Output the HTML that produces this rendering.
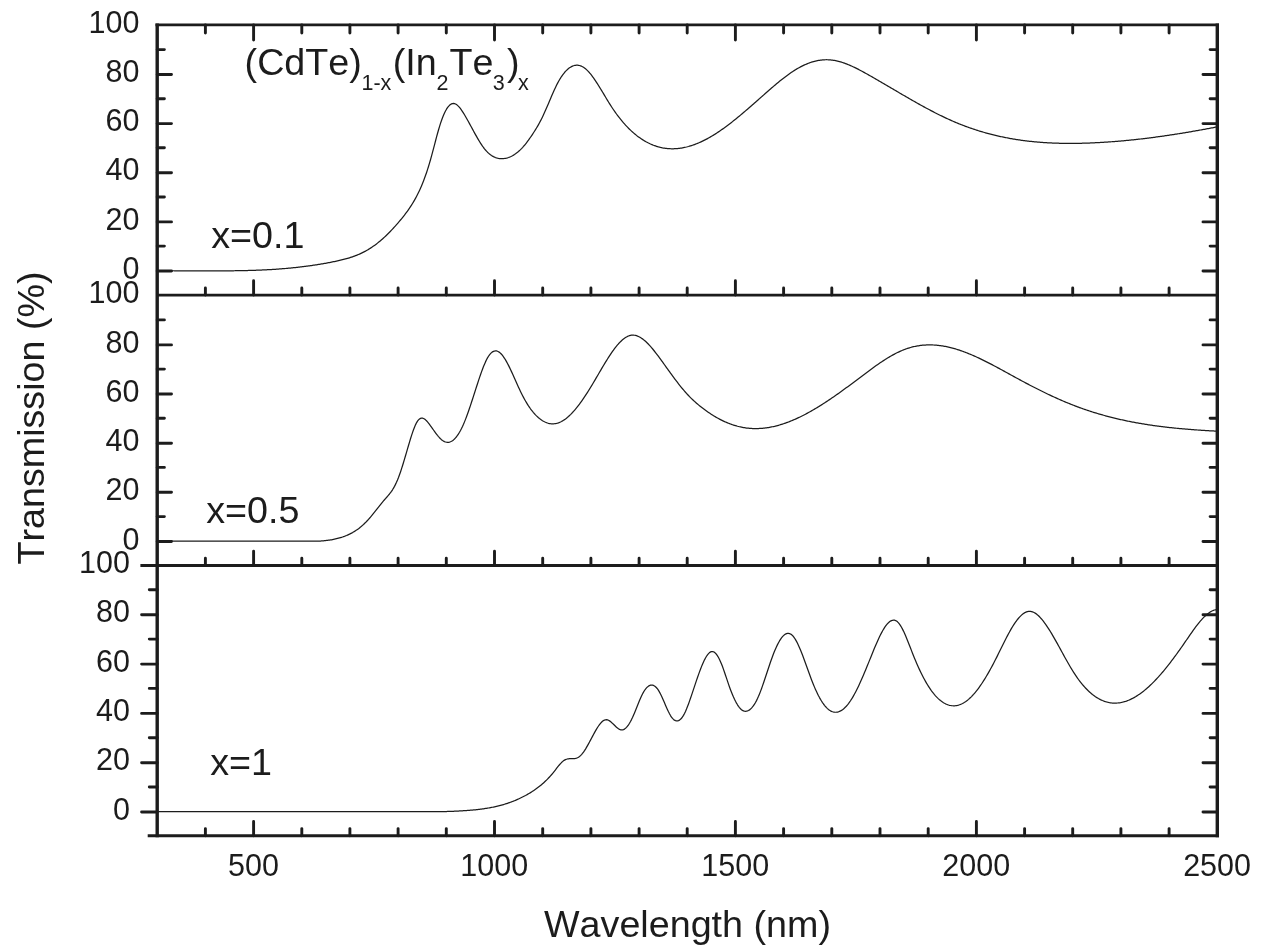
<!DOCTYPE html>
<html><head><meta charset="utf-8"><title>Transmission spectra</title>
<style>
html,body{margin:0;padding:0;background:#fff;}
body{width:1268px;height:945px;overflow:hidden;}
svg{display:block;}
text{font-family:"Liberation Sans",Arial,Helvetica,sans-serif;fill:#1c1c1c;font-kerning:none;font-variant-ligatures:none;}
.tl{font-size:30.5px;}
.an{font-size:37.7px;}
.sb{font-size:21.5px;}
.ax{stroke:#1c1c1c;stroke-width:2.9;fill:none;stroke-linecap:butt;}
.tk{stroke:#1c1c1c;stroke-width:2.9;fill:none;stroke-linecap:round;}
.cv{stroke:#1c1c1c;stroke-width:1.25;fill:none;stroke-linejoin:round;}
</style></head><body>
<svg width="1268" height="945" viewBox="0 0 1268 945">
<rect width="1268" height="945" fill="#fff"/>

<path class="cv" d="M158.5,270.80 L159.5,270.80 L160.5,270.80 L161.5,270.80 L162.5,270.80 L163.5,270.80 L164.5,270.80 L165.5,270.79 L166.5,270.78 L167.5,270.78 L168.5,270.77 L169.5,270.77 L170.5,270.76 L171.5,270.76 L172.5,270.76 L173.5,270.75 L174.5,270.75 L175.5,270.75 L176.5,270.75 L177.5,270.75 L178.5,270.75 L179.5,270.75 L180.5,270.75 L181.5,270.75 L182.5,270.76 L183.5,270.76 L184.5,270.76 L185.5,270.76 L186.5,270.77 L187.5,270.77 L188.5,270.77 L189.5,270.78 L190.5,270.78 L191.5,270.78 L192.5,270.79 L193.5,270.79 L194.5,270.80 L195.5,270.80 L196.5,270.80 L197.5,270.80 L198.5,270.80 L199.5,270.80 L200.5,270.80 L201.5,270.80 L202.5,270.80 L203.5,270.80 L204.5,270.80 L205.5,270.80 L206.5,270.80 L207.5,270.80 L208.5,270.80 L209.5,270.80 L210.5,270.80 L211.5,270.80 L212.5,270.80 L213.5,270.80 L214.5,270.80 L215.5,270.80 L216.5,270.80 L217.5,270.80 L218.5,270.80 L219.5,270.80 L220.5,270.80 L221.5,270.80 L222.5,270.80 L223.5,270.80 L224.5,270.80 L225.5,270.80 L226.5,270.80 L227.5,270.80 L228.5,270.80 L229.5,270.80 L230.5,270.79 L231.5,270.78 L232.5,270.77 L233.5,270.76 L234.5,270.75 L235.5,270.74 L236.5,270.73 L237.5,270.71 L238.5,270.70 L239.5,270.68 L240.5,270.66 L241.5,270.64 L242.5,270.62 L243.5,270.60 L244.5,270.58 L245.5,270.56 L246.5,270.53 L247.5,270.51 L248.5,270.48 L249.5,270.46 L250.5,270.43 L251.5,270.40 L252.5,270.37 L253.5,270.34 L254.5,270.30 L255.5,270.27 L256.5,270.23 L257.5,270.19 L258.5,270.15 L259.5,270.11 L260.5,270.07 L261.5,270.03 L262.5,269.98 L263.5,269.94 L264.5,269.89 L265.5,269.84 L266.5,269.79 L267.5,269.74 L268.5,269.68 L269.5,269.63 L270.5,269.57 L271.5,269.51 L272.5,269.45 L273.5,269.39 L274.5,269.32 L275.5,269.26 L276.5,269.19 L277.5,269.12 L278.5,269.05 L279.5,268.98 L280.5,268.90 L281.5,268.82 L282.5,268.74 L283.5,268.66 L284.5,268.58 L285.5,268.50 L286.5,268.41 L287.5,268.32 L288.5,268.23 L289.5,268.14 L290.5,268.04 L291.5,267.94 L292.5,267.85 L293.5,267.74 L294.5,267.64 L295.5,267.53 L296.5,267.43 L297.5,267.32 L298.5,267.20 L299.5,267.09 L300.5,266.97 L301.5,266.85 L302.5,266.73 L303.5,266.61 L304.5,266.48 L305.5,266.36 L306.5,266.22 L307.5,266.09 L308.5,265.96 L309.5,265.82 L310.5,265.68 L311.5,265.53 L312.5,265.39 L313.5,265.24 L314.5,265.09 L315.5,264.94 L316.5,264.78 L317.5,264.62 L318.5,264.46 L319.5,264.30 L320.5,264.13 L321.5,263.97 L322.5,263.79 L323.5,263.62 L324.5,263.44 L325.5,263.26 L326.5,263.08 L327.5,262.90 L328.5,262.71 L329.5,262.52 L330.5,262.32 L331.5,262.13 L332.5,261.93 L333.5,261.73 L334.5,261.52 L335.5,261.31 L336.5,261.10 L337.5,260.88 L338.5,260.66 L339.5,260.44 L340.5,260.21 L341.5,259.97 L342.5,259.72 L343.5,259.47 L344.5,259.21 L345.5,258.94 L346.5,258.67 L347.5,258.38 L348.5,258.09 L349.5,257.78 L350.5,257.46 L351.5,257.14 L352.5,256.80 L353.5,256.45 L354.5,256.08 L355.5,255.71 L356.5,255.32 L357.5,254.91 L358.5,254.49 L359.5,254.06 L360.5,253.61 L361.5,253.14 L362.5,252.66 L363.5,252.16 L364.5,251.64 L365.5,251.11 L366.5,250.55 L367.5,249.98 L368.5,249.38 L369.5,248.77 L370.5,248.14 L371.5,247.48 L372.5,246.81 L373.5,246.11 L374.5,245.39 L375.5,244.66 L376.5,243.90 L377.5,243.12 L378.5,242.32 L379.5,241.50 L380.5,240.66 L381.5,239.80 L382.5,238.92 L383.5,238.02 L384.5,237.11 L385.5,236.17 L386.5,235.22 L387.5,234.24 L388.5,233.25 L389.5,232.24 L390.5,231.22 L391.5,230.17 L392.5,229.11 L393.5,228.03 L394.5,226.93 L395.5,225.82 L396.5,224.69 L397.5,223.54 L398.5,222.38 L399.5,221.20 L400.5,220.00 L401.5,218.79 L402.5,217.56 L403.5,216.31 L404.5,215.04 L405.5,213.74 L406.5,212.41 L407.5,211.05 L408.5,209.64 L409.5,208.19 L410.5,206.70 L411.5,205.15 L412.5,203.54 L413.5,201.88 L414.5,200.15 L415.5,198.35 L416.5,196.49 L417.5,194.54 L418.5,192.51 L419.5,190.40 L420.5,188.19 L421.5,185.89 L422.5,183.47 L423.5,180.95 L424.5,178.31 L425.5,175.55 L426.5,172.67 L427.5,169.65 L428.5,166.48 L429.5,163.18 L430.5,159.72 L431.5,156.12 L432.5,152.40 L433.5,148.61 L434.5,144.79 L435.5,140.97 L436.5,137.21 L437.5,133.53 L438.5,129.97 L439.5,126.59 L440.5,123.41 L441.5,120.46 L442.5,117.74 L443.5,115.26 L444.5,113.01 L445.5,110.99 L446.5,109.21 L447.5,107.67 L448.5,106.37 L449.5,105.31 L450.5,104.48 L451.5,103.90 L452.5,103.56 L453.5,103.47 L454.5,103.61 L455.5,103.99 L456.5,104.58 L457.5,105.37 L458.5,106.33 L459.5,107.45 L460.5,108.71 L461.5,110.09 L462.5,111.58 L463.5,113.15 L464.5,114.80 L465.5,116.49 L466.5,118.23 L467.5,120.01 L468.5,121.81 L469.5,123.63 L470.5,125.47 L471.5,127.31 L472.5,129.16 L473.5,131.00 L474.5,132.83 L475.5,134.63 L476.5,136.41 L477.5,138.15 L478.5,139.85 L479.5,141.51 L480.5,143.10 L481.5,144.64 L482.5,146.11 L483.5,147.50 L484.5,148.81 L485.5,150.02 L486.5,151.15 L487.5,152.19 L488.5,153.13 L489.5,154.00 L490.5,154.78 L491.5,155.48 L492.5,156.10 L493.5,156.65 L494.5,157.13 L495.5,157.54 L496.5,157.87 L497.5,158.15 L498.5,158.36 L499.5,158.51 L500.5,158.61 L501.5,158.64 L502.5,158.63 L503.5,158.57 L504.5,158.45 L505.5,158.29 L506.5,158.07 L507.5,157.81 L508.5,157.49 L509.5,157.13 L510.5,156.71 L511.5,156.24 L512.5,155.72 L513.5,155.14 L514.5,154.52 L515.5,153.84 L516.5,153.10 L517.5,152.31 L518.5,151.47 L519.5,150.58 L520.5,149.63 L521.5,148.62 L522.5,147.56 L523.5,146.45 L524.5,145.28 L525.5,144.05 L526.5,142.78 L527.5,141.46 L528.5,140.10 L529.5,138.69 L530.5,137.26 L531.5,135.79 L532.5,134.30 L533.5,132.77 L534.5,131.22 L535.5,129.63 L536.5,128.00 L537.5,126.32 L538.5,124.57 L539.5,122.77 L540.5,120.90 L541.5,118.95 L542.5,116.91 L543.5,114.80 L544.5,112.61 L545.5,110.37 L546.5,108.07 L547.5,105.75 L548.5,103.40 L549.5,101.05 L550.5,98.69 L551.5,96.36 L552.5,94.05 L553.5,91.78 L554.5,89.56 L555.5,87.41 L556.5,85.34 L557.5,83.36 L558.5,81.48 L559.5,79.71 L560.5,78.06 L561.5,76.52 L562.5,75.09 L563.5,73.77 L564.5,72.54 L565.5,71.42 L566.5,70.39 L567.5,69.45 L568.5,68.60 L569.5,67.85 L570.5,67.19 L571.5,66.62 L572.5,66.15 L573.5,65.77 L574.5,65.48 L575.5,65.30 L576.5,65.20 L577.5,65.21 L578.5,65.31 L579.5,65.50 L580.5,65.80 L581.5,66.20 L582.5,66.69 L583.5,67.29 L584.5,67.98 L585.5,68.77 L586.5,69.65 L587.5,70.62 L588.5,71.66 L589.5,72.78 L590.5,73.97 L591.5,75.23 L592.5,76.55 L593.5,77.93 L594.5,79.35 L595.5,80.83 L596.5,82.34 L597.5,83.89 L598.5,85.47 L599.5,87.08 L600.5,88.72 L601.5,90.36 L602.5,92.03 L603.5,93.69 L604.5,95.37 L605.5,97.03 L606.5,98.70 L607.5,100.35 L608.5,101.98 L609.5,103.59 L610.5,105.17 L611.5,106.73 L612.5,108.25 L613.5,109.73 L614.5,111.18 L615.5,112.60 L616.5,113.99 L617.5,115.35 L618.5,116.67 L619.5,117.96 L620.5,119.22 L621.5,120.45 L622.5,121.65 L623.5,122.81 L624.5,123.95 L625.5,125.06 L626.5,126.14 L627.5,127.19 L628.5,128.21 L629.5,129.20 L630.5,130.16 L631.5,131.10 L632.5,132.01 L633.5,132.89 L634.5,133.74 L635.5,134.57 L636.5,135.37 L637.5,136.15 L638.5,136.89 L639.5,137.62 L640.5,138.32 L641.5,138.99 L642.5,139.64 L643.5,140.27 L644.5,140.87 L645.5,141.44 L646.5,142.00 L647.5,142.53 L648.5,143.04 L649.5,143.52 L650.5,143.99 L651.5,144.43 L652.5,144.84 L653.5,145.24 L654.5,145.61 L655.5,145.96 L656.5,146.29 L657.5,146.60 L658.5,146.89 L659.5,147.15 L660.5,147.40 L661.5,147.62 L662.5,147.83 L663.5,148.01 L664.5,148.17 L665.5,148.32 L666.5,148.44 L667.5,148.54 L668.5,148.63 L669.5,148.69 L670.5,148.74 L671.5,148.76 L672.5,148.77 L673.5,148.76 L674.5,148.73 L675.5,148.68 L676.5,148.62 L677.5,148.54 L678.5,148.43 L679.5,148.32 L680.5,148.18 L681.5,148.03 L682.5,147.86 L683.5,147.67 L684.5,147.46 L685.5,147.24 L686.5,147.01 L687.5,146.75 L688.5,146.49 L689.5,146.20 L690.5,145.90 L691.5,145.59 L692.5,145.26 L693.5,144.91 L694.5,144.55 L695.5,144.17 L696.5,143.78 L697.5,143.38 L698.5,142.96 L699.5,142.53 L700.5,142.08 L701.5,141.62 L702.5,141.15 L703.5,140.66 L704.5,140.16 L705.5,139.65 L706.5,139.12 L707.5,138.59 L708.5,138.04 L709.5,137.47 L710.5,136.90 L711.5,136.31 L712.5,135.71 L713.5,135.10 L714.5,134.48 L715.5,133.85 L716.5,133.21 L717.5,132.56 L718.5,131.89 L719.5,131.22 L720.5,130.53 L721.5,129.84 L722.5,129.13 L723.5,128.42 L724.5,127.70 L725.5,126.97 L726.5,126.23 L727.5,125.48 L728.5,124.73 L729.5,123.96 L730.5,123.19 L731.5,122.41 L732.5,121.63 L733.5,120.84 L734.5,120.04 L735.5,119.23 L736.5,118.42 L737.5,117.60 L738.5,116.78 L739.5,115.95 L740.5,115.12 L741.5,114.28 L742.5,113.44 L743.5,112.59 L744.5,111.74 L745.5,110.88 L746.5,110.03 L747.5,109.16 L748.5,108.30 L749.5,107.43 L750.5,106.56 L751.5,105.69 L752.5,104.81 L753.5,103.93 L754.5,103.05 L755.5,102.17 L756.5,101.29 L757.5,100.41 L758.5,99.52 L759.5,98.64 L760.5,97.75 L761.5,96.87 L762.5,95.98 L763.5,95.10 L764.5,94.22 L765.5,93.33 L766.5,92.45 L767.5,91.57 L768.5,90.70 L769.5,89.82 L770.5,88.95 L771.5,88.09 L772.5,87.22 L773.5,86.37 L774.5,85.51 L775.5,84.67 L776.5,83.83 L777.5,82.99 L778.5,82.17 L779.5,81.35 L780.5,80.54 L781.5,79.74 L782.5,78.95 L783.5,78.17 L784.5,77.40 L785.5,76.64 L786.5,75.89 L787.5,75.16 L788.5,74.43 L789.5,73.72 L790.5,73.02 L791.5,72.34 L792.5,71.67 L793.5,71.02 L794.5,70.38 L795.5,69.76 L796.5,69.15 L797.5,68.57 L798.5,67.99 L799.5,67.44 L800.5,66.90 L801.5,66.38 L802.5,65.88 L803.5,65.40 L804.5,64.93 L805.5,64.48 L806.5,64.06 L807.5,63.65 L808.5,63.26 L809.5,62.88 L810.5,62.53 L811.5,62.20 L812.5,61.89 L813.5,61.60 L814.5,61.33 L815.5,61.08 L816.5,60.85 L817.5,60.64 L818.5,60.45 L819.5,60.28 L820.5,60.14 L821.5,60.01 L822.5,59.91 L823.5,59.84 L824.5,59.78 L825.5,59.75 L826.5,59.74 L827.5,59.75 L828.5,59.78 L829.5,59.84 L830.5,59.93 L831.5,60.03 L832.5,60.16 L833.5,60.31 L834.5,60.48 L835.5,60.67 L836.5,60.87 L837.5,61.10 L838.5,61.35 L839.5,61.62 L840.5,61.90 L841.5,62.20 L842.5,62.52 L843.5,62.85 L844.5,63.20 L845.5,63.56 L846.5,63.94 L847.5,64.33 L848.5,64.74 L849.5,65.16 L850.5,65.59 L851.5,66.03 L852.5,66.48 L853.5,66.95 L854.5,67.43 L855.5,67.91 L856.5,68.41 L857.5,68.91 L858.5,69.42 L859.5,69.94 L860.5,70.47 L861.5,71.00 L862.5,71.54 L863.5,72.08 L864.5,72.63 L865.5,73.19 L866.5,73.74 L867.5,74.31 L868.5,74.87 L869.5,75.44 L870.5,76.01 L871.5,76.58 L872.5,77.15 L873.5,77.72 L874.5,78.30 L875.5,78.87 L876.5,79.45 L877.5,80.03 L878.5,80.61 L879.5,81.19 L880.5,81.78 L881.5,82.36 L882.5,82.94 L883.5,83.53 L884.5,84.11 L885.5,84.70 L886.5,85.29 L887.5,85.87 L888.5,86.46 L889.5,87.05 L890.5,87.63 L891.5,88.22 L892.5,88.81 L893.5,89.40 L894.5,89.98 L895.5,90.57 L896.5,91.16 L897.5,91.75 L898.5,92.33 L899.5,92.92 L900.5,93.50 L901.5,94.09 L902.5,94.67 L903.5,95.25 L904.5,95.83 L905.5,96.41 L906.5,96.99 L907.5,97.57 L908.5,98.15 L909.5,98.72 L910.5,99.30 L911.5,99.87 L912.5,100.44 L913.5,101.01 L914.5,101.58 L915.5,102.14 L916.5,102.71 L917.5,103.27 L918.5,103.83 L919.5,104.39 L920.5,104.94 L921.5,105.49 L922.5,106.04 L923.5,106.59 L924.5,107.14 L925.5,107.68 L926.5,108.22 L927.5,108.76 L928.5,109.29 L929.5,109.82 L930.5,110.35 L931.5,110.87 L932.5,111.40 L933.5,111.91 L934.5,112.43 L935.5,112.94 L936.5,113.45 L937.5,113.95 L938.5,114.45 L939.5,114.95 L940.5,115.44 L941.5,115.93 L942.5,116.42 L943.5,116.90 L944.5,117.37 L945.5,117.85 L946.5,118.31 L947.5,118.78 L948.5,119.24 L949.5,119.69 L950.5,120.14 L951.5,120.59 L952.5,121.03 L953.5,121.46 L954.5,121.89 L955.5,122.32 L956.5,122.74 L957.5,123.15 L958.5,123.56 L959.5,123.97 L960.5,124.37 L961.5,124.76 L962.5,125.15 L963.5,125.54 L964.5,125.92 L965.5,126.29 L966.5,126.66 L967.5,127.03 L968.5,127.39 L969.5,127.74 L970.5,128.09 L971.5,128.44 L972.5,128.78 L973.5,129.12 L974.5,129.45 L975.5,129.78 L976.5,130.10 L977.5,130.42 L978.5,130.73 L979.5,131.04 L980.5,131.35 L981.5,131.65 L982.5,131.94 L983.5,132.23 L984.5,132.52 L985.5,132.80 L986.5,133.08 L987.5,133.36 L988.5,133.62 L989.5,133.89 L990.5,134.15 L991.5,134.41 L992.5,134.66 L993.5,134.91 L994.5,135.15 L995.5,135.39 L996.5,135.63 L997.5,135.86 L998.5,136.09 L999.5,136.31 L1000.5,136.53 L1001.5,136.75 L1002.5,136.96 L1003.5,137.16 L1004.5,137.37 L1005.5,137.57 L1006.5,137.76 L1007.5,137.96 L1008.5,138.14 L1009.5,138.33 L1010.5,138.51 L1011.5,138.69 L1012.5,138.86 L1013.5,139.03 L1014.5,139.20 L1015.5,139.36 L1016.5,139.52 L1017.5,139.67 L1018.5,139.82 L1019.5,139.97 L1020.5,140.12 L1021.5,140.26 L1022.5,140.39 L1023.5,140.53 L1024.5,140.66 L1025.5,140.79 L1026.5,140.91 L1027.5,141.03 L1028.5,141.15 L1029.5,141.26 L1030.5,141.37 L1031.5,141.48 L1032.5,141.58 L1033.5,141.68 L1034.5,141.78 L1035.5,141.88 L1036.5,141.97 L1037.5,142.06 L1038.5,142.14 L1039.5,142.22 L1040.5,142.30 L1041.5,142.38 L1042.5,142.45 L1043.5,142.52 L1044.5,142.59 L1045.5,142.66 L1046.5,142.72 L1047.5,142.78 L1048.5,142.83 L1049.5,142.89 L1050.5,142.94 L1051.5,142.98 L1052.5,143.03 L1053.5,143.07 L1054.5,143.11 L1055.5,143.15 L1056.5,143.18 L1057.5,143.21 L1058.5,143.24 L1059.5,143.27 L1060.5,143.29 L1061.5,143.32 L1062.5,143.33 L1063.5,143.35 L1064.5,143.37 L1065.5,143.38 L1066.5,143.39 L1067.5,143.39 L1068.5,143.40 L1069.5,143.40 L1070.5,143.40 L1071.5,143.40 L1072.5,143.40 L1073.5,143.39 L1074.5,143.38 L1075.5,143.37 L1076.5,143.36 L1077.5,143.34 L1078.5,143.33 L1079.5,143.31 L1080.5,143.29 L1081.5,143.26 L1082.5,143.24 L1083.5,143.21 L1084.5,143.18 L1085.5,143.15 L1086.5,143.12 L1087.5,143.08 L1088.5,143.05 L1089.5,143.01 L1090.5,142.97 L1091.5,142.93 L1092.5,142.88 L1093.5,142.84 L1094.5,142.79 L1095.5,142.74 L1096.5,142.69 L1097.5,142.64 L1098.5,142.59 L1099.5,142.53 L1100.5,142.48 L1101.5,142.42 L1102.5,142.36 L1103.5,142.30 L1104.5,142.24 L1105.5,142.17 L1106.5,142.11 L1107.5,142.04 L1108.5,141.97 L1109.5,141.90 L1110.5,141.83 L1111.5,141.75 L1112.5,141.68 L1113.5,141.60 L1114.5,141.53 L1115.5,141.45 L1116.5,141.36 L1117.5,141.28 L1118.5,141.20 L1119.5,141.11 L1120.5,141.03 L1121.5,140.94 L1122.5,140.85 L1123.5,140.76 L1124.5,140.66 L1125.5,140.57 L1126.5,140.47 L1127.5,140.38 L1128.5,140.28 L1129.5,140.18 L1130.5,140.08 L1131.5,139.98 L1132.5,139.87 L1133.5,139.77 L1134.5,139.66 L1135.5,139.55 L1136.5,139.44 L1137.5,139.33 L1138.5,139.22 L1139.5,139.11 L1140.5,139.00 L1141.5,138.88 L1142.5,138.76 L1143.5,138.64 L1144.5,138.52 L1145.5,138.40 L1146.5,138.28 L1147.5,138.16 L1148.5,138.03 L1149.5,137.91 L1150.5,137.78 L1151.5,137.65 L1152.5,137.52 L1153.5,137.39 L1154.5,137.26 L1155.5,137.13 L1156.5,136.99 L1157.5,136.86 L1158.5,136.72 L1159.5,136.58 L1160.5,136.44 L1161.5,136.30 L1162.5,136.16 L1163.5,136.02 L1164.5,135.87 L1165.5,135.73 L1166.5,135.58 L1167.5,135.44 L1168.5,135.29 L1169.5,135.14 L1170.5,134.99 L1171.5,134.84 L1172.5,134.68 L1173.5,134.53 L1174.5,134.38 L1175.5,134.22 L1176.5,134.06 L1177.5,133.91 L1178.5,133.75 L1179.5,133.59 L1180.5,133.43 L1181.5,133.26 L1182.5,133.10 L1183.5,132.94 L1184.5,132.77 L1185.5,132.61 L1186.5,132.44 L1187.5,132.27 L1188.5,132.10 L1189.5,131.93 L1190.5,131.76 L1191.5,131.59 L1192.5,131.42 L1193.5,131.24 L1194.5,131.07 L1195.5,130.89 L1196.5,130.72 L1197.5,130.54 L1198.5,130.36 L1199.5,130.18 L1200.5,130.00 L1201.5,129.82 L1202.5,129.64 L1203.5,129.46 L1204.5,129.27 L1205.5,129.09 L1206.5,128.90 L1207.5,128.72 L1208.5,128.53 L1209.5,128.34 L1210.5,128.15 L1211.5,127.96 L1212.5,127.77 L1213.5,127.58 L1214.5,127.39 L1215.5,127.20 L1216.5,127.01"/>
<path class="cv" d="M158.5,541.20 L159.5,541.20 L160.5,541.20 L161.5,541.20 L162.5,541.20 L163.5,541.20 L164.5,541.20 L165.5,541.20 L166.5,541.20 L167.5,541.19 L168.5,541.19 L169.5,541.18 L170.5,541.18 L171.5,541.18 L172.5,541.17 L173.5,541.17 L174.5,541.17 L175.5,541.16 L176.5,541.16 L177.5,541.16 L178.5,541.16 L179.5,541.16 L180.5,541.15 L181.5,541.15 L182.5,541.15 L183.5,541.15 L184.5,541.15 L185.5,541.15 L186.5,541.15 L187.5,541.15 L188.5,541.15 L189.5,541.16 L190.5,541.16 L191.5,541.16 L192.5,541.16 L193.5,541.16 L194.5,541.16 L195.5,541.16 L196.5,541.17 L197.5,541.17 L198.5,541.17 L199.5,541.17 L200.5,541.18 L201.5,541.18 L202.5,541.18 L203.5,541.18 L204.5,541.19 L205.5,541.19 L206.5,541.19 L207.5,541.20 L208.5,541.20 L209.5,541.20 L210.5,541.20 L211.5,541.20 L212.5,541.20 L213.5,541.20 L214.5,541.20 L215.5,541.20 L216.5,541.20 L217.5,541.20 L218.5,541.20 L219.5,541.20 L220.5,541.20 L221.5,541.20 L222.5,541.20 L223.5,541.20 L224.5,541.20 L225.5,541.20 L226.5,541.20 L227.5,541.20 L228.5,541.20 L229.5,541.20 L230.5,541.20 L231.5,541.20 L232.5,541.20 L233.5,541.20 L234.5,541.20 L235.5,541.20 L236.5,541.20 L237.5,541.20 L238.5,541.20 L239.5,541.20 L240.5,541.20 L241.5,541.20 L242.5,541.20 L243.5,541.20 L244.5,541.20 L245.5,541.20 L246.5,541.20 L247.5,541.20 L248.5,541.20 L249.5,541.20 L250.5,541.20 L251.5,541.20 L252.5,541.20 L253.5,541.20 L254.5,541.20 L255.5,541.20 L256.5,541.20 L257.5,541.20 L258.5,541.20 L259.5,541.20 L260.5,541.20 L261.5,541.20 L262.5,541.19 L263.5,541.18 L264.5,541.17 L265.5,541.16 L266.5,541.15 L267.5,541.15 L268.5,541.14 L269.5,541.13 L270.5,541.12 L271.5,541.11 L272.5,541.10 L273.5,541.09 L274.5,541.09 L275.5,541.08 L276.5,541.07 L277.5,541.06 L278.5,541.06 L279.5,541.05 L280.5,541.05 L281.5,541.05 L282.5,541.04 L283.5,541.04 L284.5,541.04 L285.5,541.04 L286.5,541.05 L287.5,541.05 L288.5,541.05 L289.5,541.06 L290.5,541.07 L291.5,541.08 L292.5,541.09 L293.5,541.10 L294.5,541.12 L295.5,541.13 L296.5,541.15 L297.5,541.17 L298.5,541.19 L299.5,541.20 L300.5,541.20 L301.5,541.20 L302.5,541.20 L303.5,541.20 L304.5,541.20 L305.5,541.20 L306.5,541.20 L307.5,541.20 L308.5,541.20 L309.5,541.20 L310.5,541.20 L311.5,541.20 L312.5,541.20 L313.5,541.20 L314.5,541.20 L315.5,541.20 L316.5,541.20 L317.5,541.20 L318.5,541.15 L319.5,541.10 L320.5,541.04 L321.5,540.97 L322.5,540.89 L323.5,540.81 L324.5,540.71 L325.5,540.61 L326.5,540.49 L327.5,540.37 L328.5,540.23 L329.5,540.09 L330.5,539.93 L331.5,539.76 L332.5,539.58 L333.5,539.38 L334.5,539.17 L335.5,538.95 L336.5,538.72 L337.5,538.47 L338.5,538.21 L339.5,537.93 L340.5,537.63 L341.5,537.32 L342.5,537.00 L343.5,536.65 L344.5,536.29 L345.5,535.90 L346.5,535.50 L347.5,535.07 L348.5,534.62 L349.5,534.15 L350.5,533.65 L351.5,533.13 L352.5,532.58 L353.5,532.00 L354.5,531.40 L355.5,530.76 L356.5,530.10 L357.5,529.40 L358.5,528.67 L359.5,527.90 L360.5,527.11 L361.5,526.27 L362.5,525.40 L363.5,524.50 L364.5,523.55 L365.5,522.57 L366.5,521.54 L367.5,520.47 L368.5,519.37 L369.5,518.22 L370.5,517.05 L371.5,515.84 L372.5,514.62 L373.5,513.37 L374.5,512.11 L375.5,510.84 L376.5,509.57 L377.5,508.30 L378.5,507.03 L379.5,505.77 L380.5,504.52 L381.5,503.29 L382.5,502.09 L383.5,500.91 L384.5,499.77 L385.5,498.64 L386.5,497.52 L387.5,496.39 L388.5,495.21 L389.5,493.99 L390.5,492.68 L391.5,491.29 L392.5,489.78 L393.5,488.13 L394.5,486.34 L395.5,484.39 L396.5,482.27 L397.5,479.97 L398.5,477.48 L399.5,474.80 L400.5,471.93 L401.5,468.90 L402.5,465.74 L403.5,462.48 L404.5,459.14 L405.5,455.74 L406.5,452.31 L407.5,448.87 L408.5,445.45 L409.5,442.07 L410.5,438.78 L411.5,435.60 L412.5,432.58 L413.5,429.75 L414.5,427.16 L415.5,424.85 L416.5,422.84 L417.5,421.18 L418.5,419.88 L419.5,418.93 L420.5,418.34 L421.5,418.09 L422.5,418.14 L423.5,418.47 L424.5,419.04 L425.5,419.83 L426.5,420.79 L427.5,421.90 L428.5,423.12 L429.5,424.43 L430.5,425.79 L431.5,427.18 L432.5,428.59 L433.5,430.00 L434.5,431.39 L435.5,432.76 L436.5,434.09 L437.5,435.37 L438.5,436.58 L439.5,437.70 L440.5,438.73 L441.5,439.65 L442.5,440.45 L443.5,441.10 L444.5,441.62 L445.5,442.00 L446.5,442.24 L447.5,442.33 L448.5,442.28 L449.5,442.09 L450.5,441.76 L451.5,441.29 L452.5,440.67 L453.5,439.90 L454.5,439.00 L455.5,437.94 L456.5,436.74 L457.5,435.40 L458.5,433.91 L459.5,432.27 L460.5,430.49 L461.5,428.55 L462.5,426.47 L463.5,424.24 L464.5,421.87 L465.5,419.37 L466.5,416.75 L467.5,414.02 L468.5,411.20 L469.5,408.31 L470.5,405.34 L471.5,402.31 L472.5,399.24 L473.5,396.15 L474.5,393.03 L475.5,389.90 L476.5,386.78 L477.5,383.69 L478.5,380.63 L479.5,377.63 L480.5,374.71 L481.5,371.88 L482.5,369.17 L483.5,366.58 L484.5,364.15 L485.5,361.88 L486.5,359.79 L487.5,357.90 L488.5,356.24 L489.5,354.81 L490.5,353.60 L491.5,352.63 L492.5,351.87 L493.5,351.33 L494.5,351.01 L495.5,350.89 L496.5,350.97 L497.5,351.25 L498.5,351.73 L499.5,352.39 L500.5,353.24 L501.5,354.27 L502.5,355.46 L503.5,356.80 L504.5,358.28 L505.5,359.90 L506.5,361.63 L507.5,363.46 L508.5,365.39 L509.5,367.40 L510.5,369.48 L511.5,371.62 L512.5,373.80 L513.5,376.02 L514.5,378.26 L515.5,380.50 L516.5,382.75 L517.5,384.98 L518.5,387.18 L519.5,389.34 L520.5,391.46 L521.5,393.51 L522.5,395.49 L523.5,397.39 L524.5,399.23 L525.5,400.99 L526.5,402.68 L527.5,404.30 L528.5,405.86 L529.5,407.34 L530.5,408.76 L531.5,410.11 L532.5,411.39 L533.5,412.61 L534.5,413.76 L535.5,414.84 L536.5,415.86 L537.5,416.82 L538.5,417.72 L539.5,418.55 L540.5,419.32 L541.5,420.03 L542.5,420.69 L543.5,421.27 L544.5,421.80 L545.5,422.27 L546.5,422.68 L547.5,423.02 L548.5,423.30 L549.5,423.53 L550.5,423.69 L551.5,423.79 L552.5,423.83 L553.5,423.81 L554.5,423.73 L555.5,423.59 L556.5,423.39 L557.5,423.13 L558.5,422.80 L559.5,422.42 L560.5,421.98 L561.5,421.48 L562.5,420.92 L563.5,420.31 L564.5,419.64 L565.5,418.93 L566.5,418.16 L567.5,417.34 L568.5,416.47 L569.5,415.55 L570.5,414.59 L571.5,413.58 L572.5,412.53 L573.5,411.43 L574.5,410.29 L575.5,409.12 L576.5,407.90 L577.5,406.65 L578.5,405.36 L579.5,404.04 L580.5,402.68 L581.5,401.29 L582.5,399.87 L583.5,398.41 L584.5,396.93 L585.5,395.43 L586.5,393.89 L587.5,392.33 L588.5,390.75 L589.5,389.15 L590.5,387.52 L591.5,385.87 L592.5,384.21 L593.5,382.53 L594.5,380.84 L595.5,379.13 L596.5,377.43 L597.5,375.71 L598.5,374.00 L599.5,372.28 L600.5,370.58 L601.5,368.87 L602.5,367.18 L603.5,365.50 L604.5,363.84 L605.5,362.20 L606.5,360.57 L607.5,358.97 L608.5,357.40 L609.5,355.86 L610.5,354.35 L611.5,352.88 L612.5,351.44 L613.5,350.05 L614.5,348.70 L615.5,347.39 L616.5,346.14 L617.5,344.94 L618.5,343.79 L619.5,342.70 L620.5,341.68 L621.5,340.71 L622.5,339.82 L623.5,338.99 L624.5,338.24 L625.5,337.56 L626.5,336.95 L627.5,336.43 L628.5,336.00 L629.5,335.65 L630.5,335.38 L631.5,335.22 L632.5,335.14 L633.5,335.15 L634.5,335.25 L635.5,335.44 L636.5,335.71 L637.5,336.06 L638.5,336.48 L639.5,336.97 L640.5,337.54 L641.5,338.17 L642.5,338.87 L643.5,339.63 L644.5,340.45 L645.5,341.33 L646.5,342.25 L647.5,343.23 L648.5,344.26 L649.5,345.33 L650.5,346.44 L651.5,347.59 L652.5,348.77 L653.5,349.99 L654.5,351.24 L655.5,352.52 L656.5,353.82 L657.5,355.14 L658.5,356.48 L659.5,357.83 L660.5,359.20 L661.5,360.58 L662.5,361.97 L663.5,363.36 L664.5,364.75 L665.5,366.14 L666.5,367.54 L667.5,368.93 L668.5,370.32 L669.5,371.70 L670.5,373.08 L671.5,374.45 L672.5,375.82 L673.5,377.17 L674.5,378.52 L675.5,379.85 L676.5,381.17 L677.5,382.48 L678.5,383.77 L679.5,385.05 L680.5,386.30 L681.5,387.54 L682.5,388.75 L683.5,389.95 L684.5,391.12 L685.5,392.27 L686.5,393.39 L687.5,394.48 L688.5,395.55 L689.5,396.59 L690.5,397.60 L691.5,398.58 L692.5,399.54 L693.5,400.48 L694.5,401.40 L695.5,402.29 L696.5,403.17 L697.5,404.02 L698.5,404.86 L699.5,405.68 L700.5,406.49 L701.5,407.28 L702.5,408.05 L703.5,408.81 L704.5,409.56 L705.5,410.30 L706.5,411.02 L707.5,411.72 L708.5,412.42 L709.5,413.09 L710.5,413.76 L711.5,414.41 L712.5,415.04 L713.5,415.67 L714.5,416.27 L715.5,416.87 L716.5,417.45 L717.5,418.01 L718.5,418.56 L719.5,419.10 L720.5,419.62 L721.5,420.12 L722.5,420.62 L723.5,421.10 L724.5,421.56 L725.5,422.01 L726.5,422.44 L727.5,422.86 L728.5,423.27 L729.5,423.66 L730.5,424.03 L731.5,424.39 L732.5,424.74 L733.5,425.07 L734.5,425.39 L735.5,425.69 L736.5,425.97 L737.5,426.25 L738.5,426.50 L739.5,426.74 L740.5,426.97 L741.5,427.18 L742.5,427.38 L743.5,427.56 L744.5,427.73 L745.5,427.88 L746.5,428.01 L747.5,428.13 L748.5,428.24 L749.5,428.33 L750.5,428.41 L751.5,428.48 L752.5,428.53 L753.5,428.56 L754.5,428.58 L755.5,428.59 L756.5,428.59 L757.5,428.57 L758.5,428.54 L759.5,428.49 L760.5,428.43 L761.5,428.36 L762.5,428.28 L763.5,428.18 L764.5,428.07 L765.5,427.95 L766.5,427.81 L767.5,427.67 L768.5,427.51 L769.5,427.34 L770.5,427.15 L771.5,426.96 L772.5,426.75 L773.5,426.53 L774.5,426.31 L775.5,426.06 L776.5,425.81 L777.5,425.55 L778.5,425.28 L779.5,424.99 L780.5,424.70 L781.5,424.39 L782.5,424.07 L783.5,423.75 L784.5,423.41 L785.5,423.06 L786.5,422.71 L787.5,422.34 L788.5,421.96 L789.5,421.58 L790.5,421.18 L791.5,420.77 L792.5,420.36 L793.5,419.94 L794.5,419.50 L795.5,419.06 L796.5,418.61 L797.5,418.15 L798.5,417.69 L799.5,417.21 L800.5,416.73 L801.5,416.24 L802.5,415.74 L803.5,415.23 L804.5,414.71 L805.5,414.19 L806.5,413.66 L807.5,413.12 L808.5,412.57 L809.5,412.02 L810.5,411.46 L811.5,410.89 L812.5,410.32 L813.5,409.74 L814.5,409.15 L815.5,408.56 L816.5,407.96 L817.5,407.35 L818.5,406.74 L819.5,406.12 L820.5,405.50 L821.5,404.87 L822.5,404.23 L823.5,403.59 L824.5,402.95 L825.5,402.30 L826.5,401.64 L827.5,400.98 L828.5,400.31 L829.5,399.64 L830.5,398.97 L831.5,398.29 L832.5,397.60 L833.5,396.91 L834.5,396.22 L835.5,395.52 L836.5,394.82 L837.5,394.12 L838.5,393.41 L839.5,392.70 L840.5,391.98 L841.5,391.26 L842.5,390.54 L843.5,389.82 L844.5,389.09 L845.5,388.36 L846.5,387.62 L847.5,386.89 L848.5,386.15 L849.5,385.41 L850.5,384.67 L851.5,383.92 L852.5,383.17 L853.5,382.42 L854.5,381.67 L855.5,380.92 L856.5,380.17 L857.5,379.41 L858.5,378.66 L859.5,377.90 L860.5,377.15 L861.5,376.39 L862.5,375.64 L863.5,374.88 L864.5,374.13 L865.5,373.38 L866.5,372.63 L867.5,371.89 L868.5,371.14 L869.5,370.40 L870.5,369.67 L871.5,368.94 L872.5,368.21 L873.5,367.49 L874.5,366.77 L875.5,366.06 L876.5,365.35 L877.5,364.65 L878.5,363.96 L879.5,363.27 L880.5,362.59 L881.5,361.92 L882.5,361.26 L883.5,360.61 L884.5,359.96 L885.5,359.33 L886.5,358.70 L887.5,358.08 L888.5,357.48 L889.5,356.88 L890.5,356.30 L891.5,355.73 L892.5,355.16 L893.5,354.62 L894.5,354.08 L895.5,353.56 L896.5,353.05 L897.5,352.55 L898.5,352.07 L899.5,351.60 L900.5,351.15 L901.5,350.71 L902.5,350.29 L903.5,349.89 L904.5,349.50 L905.5,349.12 L906.5,348.77 L907.5,348.43 L908.5,348.11 L909.5,347.80 L910.5,347.51 L911.5,347.23 L912.5,346.98 L913.5,346.73 L914.5,346.51 L915.5,346.30 L916.5,346.10 L917.5,345.92 L918.5,345.76 L919.5,345.61 L920.5,345.47 L921.5,345.35 L922.5,345.24 L923.5,345.15 L924.5,345.07 L925.5,345.01 L926.5,344.96 L927.5,344.93 L928.5,344.90 L929.5,344.90 L930.5,344.90 L931.5,344.92 L932.5,344.95 L933.5,345.00 L934.5,345.05 L935.5,345.12 L936.5,345.20 L937.5,345.30 L938.5,345.41 L939.5,345.52 L940.5,345.66 L941.5,345.80 L942.5,345.95 L943.5,346.12 L944.5,346.30 L945.5,346.48 L946.5,346.68 L947.5,346.89 L948.5,347.12 L949.5,347.35 L950.5,347.59 L951.5,347.84 L952.5,348.11 L953.5,348.38 L954.5,348.66 L955.5,348.95 L956.5,349.25 L957.5,349.57 L958.5,349.89 L959.5,350.21 L960.5,350.55 L961.5,350.90 L962.5,351.25 L963.5,351.62 L964.5,351.99 L965.5,352.37 L966.5,352.75 L967.5,353.15 L968.5,353.55 L969.5,353.96 L970.5,354.37 L971.5,354.79 L972.5,355.22 L973.5,355.66 L974.5,356.10 L975.5,356.55 L976.5,357.00 L977.5,357.46 L978.5,357.92 L979.5,358.39 L980.5,358.87 L981.5,359.35 L982.5,359.84 L983.5,360.33 L984.5,360.82 L985.5,361.32 L986.5,361.82 L987.5,362.33 L988.5,362.84 L989.5,363.35 L990.5,363.87 L991.5,364.39 L992.5,364.92 L993.5,365.45 L994.5,365.98 L995.5,366.51 L996.5,367.04 L997.5,367.58 L998.5,368.12 L999.5,368.66 L1000.5,369.21 L1001.5,369.75 L1002.5,370.30 L1003.5,370.84 L1004.5,371.39 L1005.5,371.94 L1006.5,372.49 L1007.5,373.04 L1008.5,373.59 L1009.5,374.14 L1010.5,374.69 L1011.5,375.24 L1012.5,375.79 L1013.5,376.34 L1014.5,376.89 L1015.5,377.44 L1016.5,377.98 L1017.5,378.53 L1018.5,379.07 L1019.5,379.61 L1020.5,380.16 L1021.5,380.69 L1022.5,381.23 L1023.5,381.77 L1024.5,382.30 L1025.5,382.83 L1026.5,383.36 L1027.5,383.89 L1028.5,384.41 L1029.5,384.94 L1030.5,385.46 L1031.5,385.98 L1032.5,386.50 L1033.5,387.01 L1034.5,387.52 L1035.5,388.03 L1036.5,388.54 L1037.5,389.05 L1038.5,389.55 L1039.5,390.05 L1040.5,390.55 L1041.5,391.04 L1042.5,391.54 L1043.5,392.03 L1044.5,392.51 L1045.5,393.00 L1046.5,393.48 L1047.5,393.96 L1048.5,394.44 L1049.5,394.91 L1050.5,395.38 L1051.5,395.85 L1052.5,396.31 L1053.5,396.77 L1054.5,397.23 L1055.5,397.69 L1056.5,398.14 L1057.5,398.59 L1058.5,399.03 L1059.5,399.47 L1060.5,399.91 L1061.5,400.35 L1062.5,400.78 L1063.5,401.21 L1064.5,401.63 L1065.5,402.05 L1066.5,402.47 L1067.5,402.88 L1068.5,403.29 L1069.5,403.70 L1070.5,404.10 L1071.5,404.50 L1072.5,404.90 L1073.5,405.29 L1074.5,405.67 L1075.5,406.06 L1076.5,406.44 L1077.5,406.81 L1078.5,407.18 L1079.5,407.55 L1080.5,407.91 L1081.5,408.27 L1082.5,408.63 L1083.5,408.98 L1084.5,409.33 L1085.5,409.67 L1086.5,410.01 L1087.5,410.35 L1088.5,410.68 L1089.5,411.01 L1090.5,411.34 L1091.5,411.66 L1092.5,411.98 L1093.5,412.29 L1094.5,412.60 L1095.5,412.91 L1096.5,413.21 L1097.5,413.51 L1098.5,413.81 L1099.5,414.11 L1100.5,414.40 L1101.5,414.68 L1102.5,414.97 L1103.5,415.25 L1104.5,415.52 L1105.5,415.80 L1106.5,416.07 L1107.5,416.34 L1108.5,416.60 L1109.5,416.86 L1110.5,417.12 L1111.5,417.37 L1112.5,417.62 L1113.5,417.87 L1114.5,418.12 L1115.5,418.36 L1116.5,418.60 L1117.5,418.83 L1118.5,419.07 L1119.5,419.30 L1120.5,419.52 L1121.5,419.75 L1122.5,419.97 L1123.5,420.19 L1124.5,420.40 L1125.5,420.62 L1126.5,420.83 L1127.5,421.03 L1128.5,421.24 L1129.5,421.44 L1130.5,421.64 L1131.5,421.83 L1132.5,422.03 L1133.5,422.22 L1134.5,422.41 L1135.5,422.59 L1136.5,422.77 L1137.5,422.96 L1138.5,423.13 L1139.5,423.31 L1140.5,423.48 L1141.5,423.65 L1142.5,423.82 L1143.5,423.99 L1144.5,424.15 L1145.5,424.31 L1146.5,424.47 L1147.5,424.63 L1148.5,424.78 L1149.5,424.93 L1150.5,425.08 L1151.5,425.23 L1152.5,425.37 L1153.5,425.52 L1154.5,425.66 L1155.5,425.79 L1156.5,425.93 L1157.5,426.07 L1158.5,426.20 L1159.5,426.33 L1160.5,426.46 L1161.5,426.58 L1162.5,426.71 L1163.5,426.83 L1164.5,426.95 L1165.5,427.07 L1166.5,427.19 L1167.5,427.30 L1168.5,427.41 L1169.5,427.52 L1170.5,427.63 L1171.5,427.74 L1172.5,427.85 L1173.5,427.95 L1174.5,428.05 L1175.5,428.16 L1176.5,428.25 L1177.5,428.35 L1178.5,428.45 L1179.5,428.54 L1180.5,428.64 L1181.5,428.73 L1182.5,428.82 L1183.5,428.91 L1184.5,428.99 L1185.5,429.08 L1186.5,429.16 L1187.5,429.24 L1188.5,429.33 L1189.5,429.41 L1190.5,429.48 L1191.5,429.56 L1192.5,429.64 L1193.5,429.71 L1194.5,429.79 L1195.5,429.86 L1196.5,429.93 L1197.5,430.00 L1198.5,430.07 L1199.5,430.14 L1200.5,430.21 L1201.5,430.27 L1202.5,430.34 L1203.5,430.40 L1204.5,430.46 L1205.5,430.52 L1206.5,430.59 L1207.5,430.65 L1208.5,430.70 L1209.5,430.76 L1210.5,430.82 L1211.5,430.88 L1212.5,430.93 L1213.5,430.99 L1214.5,431.04 L1215.5,431.10 L1216.5,431.15"/>
<path class="cv" d="M158.5,811.60 L159.5,811.60 L160.5,811.60 L161.5,811.60 L162.5,811.60 L163.5,811.60 L164.5,811.60 L165.5,811.60 L166.5,811.60 L167.5,811.60 L168.5,811.60 L169.5,811.60 L170.5,811.60 L171.5,811.60 L172.5,811.60 L173.5,811.60 L174.5,811.60 L175.5,811.60 L176.5,811.59 L177.5,811.59 L178.5,811.59 L179.5,811.59 L180.5,811.59 L181.5,811.59 L182.5,811.58 L183.5,811.58 L184.5,811.58 L185.5,811.58 L186.5,811.58 L187.5,811.58 L188.5,811.58 L189.5,811.58 L190.5,811.58 L191.5,811.57 L192.5,811.57 L193.5,811.57 L194.5,811.57 L195.5,811.57 L196.5,811.57 L197.5,811.57 L198.5,811.57 L199.5,811.57 L200.5,811.57 L201.5,811.57 L202.5,811.57 L203.5,811.57 L204.5,811.57 L205.5,811.57 L206.5,811.57 L207.5,811.57 L208.5,811.57 L209.5,811.57 L210.5,811.57 L211.5,811.57 L212.5,811.57 L213.5,811.57 L214.5,811.57 L215.5,811.58 L216.5,811.58 L217.5,811.58 L218.5,811.58 L219.5,811.58 L220.5,811.58 L221.5,811.58 L222.5,811.58 L223.5,811.58 L224.5,811.58 L225.5,811.58 L226.5,811.58 L227.5,811.59 L228.5,811.59 L229.5,811.59 L230.5,811.59 L231.5,811.59 L232.5,811.59 L233.5,811.59 L234.5,811.59 L235.5,811.59 L236.5,811.59 L237.5,811.60 L238.5,811.60 L239.5,811.60 L240.5,811.60 L241.5,811.60 L242.5,811.60 L243.5,811.60 L244.5,811.60 L245.5,811.60 L246.5,811.60 L247.5,811.60 L248.5,811.60 L249.5,811.60 L250.5,811.60 L251.5,811.60 L252.5,811.60 L253.5,811.60 L254.5,811.60 L255.5,811.60 L256.5,811.60 L257.5,811.60 L258.5,811.60 L259.5,811.60 L260.5,811.60 L261.5,811.60 L262.5,811.60 L263.5,811.60 L264.5,811.60 L265.5,811.60 L266.5,811.60 L267.5,811.60 L268.5,811.60 L269.5,811.60 L270.5,811.60 L271.5,811.60 L272.5,811.60 L273.5,811.60 L274.5,811.60 L275.5,811.60 L276.5,811.60 L277.5,811.60 L278.5,811.60 L279.5,811.60 L280.5,811.60 L281.5,811.60 L282.5,811.60 L283.5,811.60 L284.5,811.60 L285.5,811.60 L286.5,811.60 L287.5,811.60 L288.5,811.60 L289.5,811.60 L290.5,811.60 L291.5,811.60 L292.5,811.60 L293.5,811.60 L294.5,811.60 L295.5,811.60 L296.5,811.60 L297.5,811.60 L298.5,811.60 L299.5,811.60 L300.5,811.60 L301.5,811.60 L302.5,811.60 L303.5,811.60 L304.5,811.60 L305.5,811.60 L306.5,811.60 L307.5,811.60 L308.5,811.60 L309.5,811.60 L310.5,811.60 L311.5,811.60 L312.5,811.60 L313.5,811.60 L314.5,811.60 L315.5,811.60 L316.5,811.60 L317.5,811.60 L318.5,811.60 L319.5,811.60 L320.5,811.60 L321.5,811.60 L322.5,811.60 L323.5,811.60 L324.5,811.60 L325.5,811.60 L326.5,811.60 L327.5,811.60 L328.5,811.59 L329.5,811.59 L330.5,811.59 L331.5,811.59 L332.5,811.58 L333.5,811.58 L334.5,811.58 L335.5,811.58 L336.5,811.57 L337.5,811.57 L338.5,811.57 L339.5,811.56 L340.5,811.56 L341.5,811.56 L342.5,811.56 L343.5,811.55 L344.5,811.55 L345.5,811.55 L346.5,811.55 L347.5,811.54 L348.5,811.54 L349.5,811.54 L350.5,811.54 L351.5,811.54 L352.5,811.53 L353.5,811.53 L354.5,811.53 L355.5,811.53 L356.5,811.53 L357.5,811.52 L358.5,811.52 L359.5,811.52 L360.5,811.52 L361.5,811.52 L362.5,811.52 L363.5,811.52 L364.5,811.52 L365.5,811.52 L366.5,811.52 L367.5,811.52 L368.5,811.52 L369.5,811.52 L370.5,811.52 L371.5,811.52 L372.5,811.52 L373.5,811.52 L374.5,811.52 L375.5,811.52 L376.5,811.52 L377.5,811.52 L378.5,811.52 L379.5,811.53 L380.5,811.53 L381.5,811.53 L382.5,811.53 L383.5,811.54 L384.5,811.54 L385.5,811.54 L386.5,811.55 L387.5,811.55 L388.5,811.55 L389.5,811.56 L390.5,811.56 L391.5,811.57 L392.5,811.57 L393.5,811.58 L394.5,811.59 L395.5,811.59 L396.5,811.60 L397.5,811.60 L398.5,811.60 L399.5,811.60 L400.5,811.60 L401.5,811.60 L402.5,811.60 L403.5,811.60 L404.5,811.60 L405.5,811.60 L406.5,811.60 L407.5,811.60 L408.5,811.60 L409.5,811.60 L410.5,811.60 L411.5,811.60 L412.5,811.60 L413.5,811.60 L414.5,811.60 L415.5,811.60 L416.5,811.60 L417.5,811.60 L418.5,811.60 L419.5,811.60 L420.5,811.60 L421.5,811.60 L422.5,811.60 L423.5,811.60 L424.5,811.60 L425.5,811.60 L426.5,811.60 L427.5,811.60 L428.5,811.60 L429.5,811.60 L430.5,811.60 L431.5,811.60 L432.5,811.60 L433.5,811.60 L434.5,811.60 L435.5,811.60 L436.5,811.60 L437.5,811.60 L438.5,811.60 L439.5,811.60 L440.5,811.60 L441.5,811.60 L442.5,811.60 L443.5,811.59 L444.5,811.57 L445.5,811.54 L446.5,811.52 L447.5,811.49 L448.5,811.46 L449.5,811.42 L450.5,811.39 L451.5,811.35 L452.5,811.31 L453.5,811.27 L454.5,811.23 L455.5,811.18 L456.5,811.14 L457.5,811.09 L458.5,811.04 L459.5,810.98 L460.5,810.93 L461.5,810.87 L462.5,810.81 L463.5,810.74 L464.5,810.68 L465.5,810.61 L466.5,810.54 L467.5,810.46 L468.5,810.39 L469.5,810.31 L470.5,810.22 L471.5,810.14 L472.5,810.05 L473.5,809.96 L474.5,809.86 L475.5,809.76 L476.5,809.65 L477.5,809.54 L478.5,809.43 L479.5,809.31 L480.5,809.19 L481.5,809.06 L482.5,808.92 L483.5,808.78 L484.5,808.64 L485.5,808.49 L486.5,808.33 L487.5,808.17 L488.5,808.00 L489.5,807.82 L490.5,807.64 L491.5,807.45 L492.5,807.25 L493.5,807.04 L494.5,806.83 L495.5,806.61 L496.5,806.38 L497.5,806.15 L498.5,805.90 L499.5,805.65 L500.5,805.39 L501.5,805.12 L502.5,804.84 L503.5,804.55 L504.5,804.25 L505.5,803.94 L506.5,803.62 L507.5,803.30 L508.5,802.96 L509.5,802.61 L510.5,802.25 L511.5,801.88 L512.5,801.50 L513.5,801.11 L514.5,800.71 L515.5,800.30 L516.5,799.87 L517.5,799.43 L518.5,798.98 L519.5,798.52 L520.5,798.05 L521.5,797.56 L522.5,797.06 L523.5,796.55 L524.5,796.02 L525.5,795.49 L526.5,794.93 L527.5,794.37 L528.5,793.79 L529.5,793.19 L530.5,792.59 L531.5,791.96 L532.5,791.32 L533.5,790.67 L534.5,789.99 L535.5,789.30 L536.5,788.59 L537.5,787.85 L538.5,787.09 L539.5,786.31 L540.5,785.51 L541.5,784.68 L542.5,783.82 L543.5,782.93 L544.5,782.02 L545.5,781.08 L546.5,780.10 L547.5,779.09 L548.5,778.05 L549.5,776.98 L550.5,775.87 L551.5,774.72 L552.5,773.54 L553.5,772.32 L554.5,771.06 L555.5,769.77 L556.5,768.48 L557.5,767.20 L558.5,765.95 L559.5,764.75 L560.5,763.62 L561.5,762.57 L562.5,761.63 L563.5,760.82 L564.5,760.14 L565.5,759.62 L566.5,759.24 L567.5,758.99 L568.5,758.83 L569.5,758.74 L570.5,758.71 L571.5,758.69 L572.5,758.68 L573.5,758.63 L574.5,758.54 L575.5,758.38 L576.5,758.12 L577.5,757.74 L578.5,757.21 L579.5,756.51 L580.5,755.64 L581.5,754.60 L582.5,753.40 L583.5,752.08 L584.5,750.62 L585.5,749.06 L586.5,747.41 L587.5,745.68 L588.5,743.88 L589.5,742.03 L590.5,740.15 L591.5,738.25 L592.5,736.36 L593.5,734.48 L594.5,732.65 L595.5,730.86 L596.5,729.15 L597.5,727.53 L598.5,726.01 L599.5,724.61 L600.5,723.35 L601.5,722.25 L602.5,721.33 L603.5,720.59 L604.5,720.07 L605.5,719.77 L606.5,719.71 L607.5,719.89 L608.5,720.29 L609.5,720.87 L610.5,721.59 L611.5,722.43 L612.5,723.35 L613.5,724.32 L614.5,725.31 L615.5,726.28 L616.5,727.21 L617.5,728.05 L618.5,728.79 L619.5,729.37 L620.5,729.78 L621.5,729.98 L622.5,729.93 L623.5,729.64 L624.5,729.12 L625.5,728.36 L626.5,727.39 L627.5,726.21 L628.5,724.84 L629.5,723.27 L630.5,721.52 L631.5,719.60 L632.5,717.52 L633.5,715.29 L634.5,712.93 L635.5,710.47 L636.5,707.95 L637.5,705.42 L638.5,702.92 L639.5,700.47 L640.5,698.14 L641.5,695.94 L642.5,693.93 L643.5,692.12 L644.5,690.51 L645.5,689.10 L646.5,687.90 L647.5,686.91 L648.5,686.13 L649.5,685.56 L650.5,685.20 L651.5,685.07 L652.5,685.15 L653.5,685.45 L654.5,685.99 L655.5,686.74 L656.5,687.73 L657.5,688.95 L658.5,690.41 L659.5,692.09 L660.5,693.99 L661.5,696.05 L662.5,698.23 L663.5,700.51 L664.5,702.83 L665.5,705.16 L666.5,707.46 L667.5,709.68 L668.5,711.80 L669.5,713.77 L670.5,715.54 L671.5,717.09 L672.5,718.38 L673.5,719.41 L674.5,720.17 L675.5,720.67 L676.5,720.91 L677.5,720.90 L678.5,720.62 L679.5,720.09 L680.5,719.30 L681.5,718.25 L682.5,716.93 L683.5,715.35 L684.5,713.50 L685.5,711.40 L686.5,709.08 L687.5,706.57 L688.5,703.91 L689.5,701.13 L690.5,698.26 L691.5,695.33 L692.5,692.35 L693.5,689.36 L694.5,686.35 L695.5,683.36 L696.5,680.39 L697.5,677.47 L698.5,674.62 L699.5,671.84 L700.5,669.17 L701.5,666.62 L702.5,664.20 L703.5,661.94 L704.5,659.85 L705.5,657.95 L706.5,656.26 L707.5,654.80 L708.5,653.58 L709.5,652.62 L710.5,651.94 L711.5,651.57 L712.5,651.50 L713.5,651.77 L714.5,652.35 L715.5,653.23 L716.5,654.40 L717.5,655.84 L718.5,657.53 L719.5,659.47 L720.5,661.64 L721.5,664.02 L722.5,666.60 L723.5,669.34 L724.5,672.22 L725.5,675.18 L726.5,678.17 L727.5,681.16 L728.5,684.09 L729.5,686.94 L730.5,689.66 L731.5,692.26 L732.5,694.73 L733.5,697.06 L734.5,699.23 L735.5,701.26 L736.5,703.11 L737.5,704.80 L738.5,706.30 L739.5,707.62 L740.5,708.74 L741.5,709.67 L742.5,710.38 L743.5,710.89 L744.5,711.20 L745.5,711.31 L746.5,711.23 L747.5,710.97 L748.5,710.52 L749.5,709.89 L750.5,709.08 L751.5,708.10 L752.5,706.96 L753.5,705.64 L754.5,704.15 L755.5,702.47 L756.5,700.61 L757.5,698.57 L758.5,696.34 L759.5,693.93 L760.5,691.38 L761.5,688.69 L762.5,685.90 L763.5,683.01 L764.5,680.06 L765.5,677.06 L766.5,674.04 L767.5,671.00 L768.5,667.98 L769.5,665.00 L770.5,662.07 L771.5,659.22 L772.5,656.47 L773.5,653.83 L774.5,651.33 L775.5,648.95 L776.5,646.72 L777.5,644.64 L778.5,642.72 L779.5,640.95 L780.5,639.36 L781.5,637.93 L782.5,636.69 L783.5,635.63 L784.5,634.77 L785.5,634.10 L786.5,633.64 L787.5,633.39 L788.5,633.36 L789.5,633.55 L790.5,633.97 L791.5,634.63 L792.5,635.53 L793.5,636.67 L794.5,638.04 L795.5,639.62 L796.5,641.39 L797.5,643.33 L798.5,645.43 L799.5,647.68 L800.5,650.05 L801.5,652.53 L802.5,655.10 L803.5,657.75 L804.5,660.46 L805.5,663.21 L806.5,665.98 L807.5,668.77 L808.5,671.55 L809.5,674.30 L810.5,677.01 L811.5,679.66 L812.5,682.24 L813.5,684.73 L814.5,687.12 L815.5,689.42 L816.5,691.61 L817.5,693.70 L818.5,695.69 L819.5,697.57 L820.5,699.34 L821.5,701.01 L822.5,702.56 L823.5,704.00 L824.5,705.33 L825.5,706.54 L826.5,707.63 L827.5,708.61 L828.5,709.46 L829.5,710.20 L830.5,710.83 L831.5,711.34 L832.5,711.73 L833.5,712.01 L834.5,712.19 L835.5,712.25 L836.5,712.20 L837.5,712.04 L838.5,711.78 L839.5,711.41 L840.5,710.94 L841.5,710.37 L842.5,709.69 L843.5,708.91 L844.5,708.04 L845.5,707.06 L846.5,705.99 L847.5,704.82 L848.5,703.55 L849.5,702.20 L850.5,700.75 L851.5,699.21 L852.5,697.57 L853.5,695.86 L854.5,694.06 L855.5,692.19 L856.5,690.24 L857.5,688.23 L858.5,686.15 L859.5,684.02 L860.5,681.83 L861.5,679.59 L862.5,677.30 L863.5,674.98 L864.5,672.61 L865.5,670.21 L866.5,667.79 L867.5,665.34 L868.5,662.87 L869.5,660.39 L870.5,657.90 L871.5,655.42 L872.5,652.96 L873.5,650.52 L874.5,648.10 L875.5,645.73 L876.5,643.41 L877.5,641.15 L878.5,638.96 L879.5,636.84 L880.5,634.80 L881.5,632.86 L882.5,631.03 L883.5,629.30 L884.5,627.70 L885.5,626.22 L886.5,624.88 L887.5,623.69 L888.5,622.66 L889.5,621.79 L890.5,621.09 L891.5,620.58 L892.5,620.26 L893.5,620.13 L894.5,620.22 L895.5,620.53 L896.5,621.06 L897.5,621.83 L898.5,622.84 L899.5,624.09 L900.5,625.56 L901.5,627.24 L902.5,629.10 L903.5,631.11 L904.5,633.27 L905.5,635.55 L906.5,637.93 L907.5,640.39 L908.5,642.91 L909.5,645.47 L910.5,648.05 L911.5,650.63 L912.5,653.19 L913.5,655.71 L914.5,658.18 L915.5,660.58 L916.5,662.93 L917.5,665.22 L918.5,667.45 L919.5,669.62 L920.5,671.73 L921.5,673.78 L922.5,675.77 L923.5,677.70 L924.5,679.56 L925.5,681.36 L926.5,683.10 L927.5,684.77 L928.5,686.38 L929.5,687.92 L930.5,689.40 L931.5,690.81 L932.5,692.15 L933.5,693.43 L934.5,694.65 L935.5,695.80 L936.5,696.89 L937.5,697.91 L938.5,698.87 L939.5,699.76 L940.5,700.59 L941.5,701.36 L942.5,702.07 L943.5,702.71 L944.5,703.29 L945.5,703.81 L946.5,704.27 L947.5,704.67 L948.5,705.01 L949.5,705.28 L950.5,705.50 L951.5,705.65 L952.5,705.75 L953.5,705.78 L954.5,705.76 L955.5,705.68 L956.5,705.54 L957.5,705.34 L958.5,705.08 L959.5,704.76 L960.5,704.39 L961.5,703.96 L962.5,703.48 L963.5,702.93 L964.5,702.33 L965.5,701.68 L966.5,700.97 L967.5,700.20 L968.5,699.38 L969.5,698.50 L970.5,697.57 L971.5,696.58 L972.5,695.54 L973.5,694.45 L974.5,693.31 L975.5,692.12 L976.5,690.88 L977.5,689.59 L978.5,688.26 L979.5,686.88 L980.5,685.45 L981.5,683.99 L982.5,682.48 L983.5,680.93 L984.5,679.34 L985.5,677.71 L986.5,676.05 L987.5,674.35 L988.5,672.61 L989.5,670.84 L990.5,669.04 L991.5,667.21 L992.5,665.34 L993.5,663.45 L994.5,661.53 L995.5,659.58 L996.5,657.60 L997.5,655.61 L998.5,653.59 L999.5,651.57 L1000.5,649.54 L1001.5,647.51 L1002.5,645.48 L1003.5,643.47 L1004.5,641.47 L1005.5,639.50 L1006.5,637.55 L1007.5,635.64 L1008.5,633.77 L1009.5,631.94 L1010.5,630.16 L1011.5,628.43 L1012.5,626.77 L1013.5,625.17 L1014.5,623.64 L1015.5,622.18 L1016.5,620.80 L1017.5,619.49 L1018.5,618.27 L1019.5,617.13 L1020.5,616.08 L1021.5,615.13 L1022.5,614.27 L1023.5,613.52 L1024.5,612.87 L1025.5,612.32 L1026.5,611.89 L1027.5,611.58 L1028.5,611.38 L1029.5,611.31 L1030.5,611.36 L1031.5,611.53 L1032.5,611.83 L1033.5,612.23 L1034.5,612.75 L1035.5,613.37 L1036.5,614.08 L1037.5,614.89 L1038.5,615.79 L1039.5,616.77 L1040.5,617.83 L1041.5,618.97 L1042.5,620.17 L1043.5,621.43 L1044.5,622.76 L1045.5,624.14 L1046.5,625.58 L1047.5,627.06 L1048.5,628.59 L1049.5,630.17 L1050.5,631.78 L1051.5,633.43 L1052.5,635.12 L1053.5,636.83 L1054.5,638.57 L1055.5,640.34 L1056.5,642.12 L1057.5,643.92 L1058.5,645.73 L1059.5,647.55 L1060.5,649.38 L1061.5,651.21 L1062.5,653.03 L1063.5,654.86 L1064.5,656.68 L1065.5,658.48 L1066.5,660.28 L1067.5,662.05 L1068.5,663.80 L1069.5,665.53 L1070.5,667.23 L1071.5,668.90 L1072.5,670.54 L1073.5,672.14 L1074.5,673.69 L1075.5,675.21 L1076.5,676.68 L1077.5,678.10 L1078.5,679.49 L1079.5,680.83 L1080.5,682.12 L1081.5,683.38 L1082.5,684.59 L1083.5,685.77 L1084.5,686.90 L1085.5,687.99 L1086.5,689.04 L1087.5,690.05 L1088.5,691.02 L1089.5,691.94 L1090.5,692.83 L1091.5,693.68 L1092.5,694.50 L1093.5,695.27 L1094.5,696.00 L1095.5,696.70 L1096.5,697.36 L1097.5,697.98 L1098.5,698.57 L1099.5,699.11 L1100.5,699.62 L1101.5,700.10 L1102.5,700.54 L1103.5,700.94 L1104.5,701.31 L1105.5,701.64 L1106.5,701.94 L1107.5,702.20 L1108.5,702.43 L1109.5,702.63 L1110.5,702.79 L1111.5,702.92 L1112.5,703.01 L1113.5,703.07 L1114.5,703.10 L1115.5,703.10 L1116.5,703.07 L1117.5,703.00 L1118.5,702.90 L1119.5,702.78 L1120.5,702.62 L1121.5,702.43 L1122.5,702.21 L1123.5,701.96 L1124.5,701.68 L1125.5,701.38 L1126.5,701.04 L1127.5,700.67 L1128.5,700.28 L1129.5,699.86 L1130.5,699.41 L1131.5,698.93 L1132.5,698.43 L1133.5,697.90 L1134.5,697.34 L1135.5,696.76 L1136.5,696.15 L1137.5,695.51 L1138.5,694.85 L1139.5,694.17 L1140.5,693.46 L1141.5,692.72 L1142.5,691.96 L1143.5,691.18 L1144.5,690.37 L1145.5,689.54 L1146.5,688.69 L1147.5,687.82 L1148.5,686.92 L1149.5,686.00 L1150.5,685.06 L1151.5,684.09 L1152.5,683.11 L1153.5,682.11 L1154.5,681.08 L1155.5,680.04 L1156.5,678.98 L1157.5,677.90 L1158.5,676.80 L1159.5,675.68 L1160.5,674.54 L1161.5,673.39 L1162.5,672.22 L1163.5,671.03 L1164.5,669.83 L1165.5,668.61 L1166.5,667.37 L1167.5,666.12 L1168.5,664.86 L1169.5,663.58 L1170.5,662.29 L1171.5,660.98 L1172.5,659.66 L1173.5,658.33 L1174.5,656.98 L1175.5,655.62 L1176.5,654.25 L1177.5,652.87 L1178.5,651.48 L1179.5,650.08 L1180.5,648.67 L1181.5,647.24 L1182.5,645.81 L1183.5,644.37 L1184.5,642.92 L1185.5,641.47 L1186.5,640.01 L1187.5,638.55 L1188.5,637.09 L1189.5,635.64 L1190.5,634.20 L1191.5,632.78 L1192.5,631.36 L1193.5,629.97 L1194.5,628.59 L1195.5,627.24 L1196.5,625.92 L1197.5,624.62 L1198.5,623.36 L1199.5,622.13 L1200.5,620.95 L1201.5,619.80 L1202.5,618.70 L1203.5,617.64 L1204.5,616.64 L1205.5,615.69 L1206.5,614.79 L1207.5,613.96 L1208.5,613.18 L1209.5,612.48 L1210.5,611.84 L1211.5,611.27 L1212.5,610.77 L1213.5,610.35 L1214.5,610.02 L1215.5,609.76 L1216.5,609.59"/>
<path class="ax" style="stroke-width:3.4" d="M157.2,23.45 V837.25 M1217.3,23.45 V837.25"/>
<path class="ax" d="M155.5,24.9 H1219.0 M157.2,295.1 H1217.3 M140.39999999999998,565.5 H1217.3 M147.7,835.8 H1219.0"/>
<path class="tk" d="M205.4,24.9 v8.1 M205.4,295.1 v-7.2 M205.4,565.5 v-7.2 M205.4,835.8 v-7.2 M253.6,24.9 v15.200000000000001 M253.6,295.1 v-14.3 M253.6,565.5 v-14.3 M253.6,835.8 v-14.3 M301.8,24.9 v8.1 M301.8,295.1 v-7.2 M301.8,565.5 v-7.2 M301.8,835.8 v-7.2 M349.9,24.9 v8.1 M349.9,295.1 v-7.2 M349.9,565.5 v-7.2 M349.9,835.8 v-7.2 M398.1,24.9 v8.1 M398.1,295.1 v-7.2 M398.1,565.5 v-7.2 M398.1,835.8 v-7.2 M446.3,24.9 v8.1 M446.3,295.1 v-7.2 M446.3,565.5 v-7.2 M446.3,835.8 v-7.2 M494.5,24.9 v15.200000000000001 M494.5,295.1 v-14.3 M494.5,565.5 v-14.3 M494.5,835.8 v-14.3 M542.7,24.9 v8.1 M542.7,295.1 v-7.2 M542.7,565.5 v-7.2 M542.7,835.8 v-7.2 M590.9,24.9 v8.1 M590.9,295.1 v-7.2 M590.9,565.5 v-7.2 M590.9,835.8 v-7.2 M639.1,24.9 v8.1 M639.1,295.1 v-7.2 M639.1,565.5 v-7.2 M639.1,835.8 v-7.2 M687.2,24.9 v8.1 M687.2,295.1 v-7.2 M687.2,565.5 v-7.2 M687.2,835.8 v-7.2 M735.4,24.9 v15.200000000000001 M735.4,295.1 v-14.3 M735.4,565.5 v-14.3 M735.4,835.8 v-14.3 M783.6,24.9 v8.1 M783.6,295.1 v-7.2 M783.6,565.5 v-7.2 M783.6,835.8 v-7.2 M831.8,24.9 v8.1 M831.8,295.1 v-7.2 M831.8,565.5 v-7.2 M831.8,835.8 v-7.2 M880.0,24.9 v8.1 M880.0,295.1 v-7.2 M880.0,565.5 v-7.2 M880.0,835.8 v-7.2 M928.2,24.9 v8.1 M928.2,295.1 v-7.2 M928.2,565.5 v-7.2 M928.2,835.8 v-7.2 M976.4,24.9 v15.200000000000001 M976.4,295.1 v-14.3 M976.4,565.5 v-14.3 M976.4,835.8 v-14.3 M1024.6,24.9 v8.1 M1024.6,295.1 v-7.2 M1024.6,565.5 v-7.2 M1024.6,835.8 v-7.2 M1072.7,24.9 v8.1 M1072.7,295.1 v-7.2 M1072.7,565.5 v-7.2 M1072.7,835.8 v-7.2 M1120.9,24.9 v8.1 M1120.9,295.1 v-7.2 M1120.9,565.5 v-7.2 M1120.9,835.8 v-7.2 M1169.1,24.9 v8.1 M1169.1,295.1 v-7.2 M1169.1,565.5 v-7.2 M1169.1,835.8 v-7.2 M157.2,271.0 h14.3 M1217.3,271.0 h-14.3 M157.2,246.1 h7.2 M1217.3,246.1 h-7.2 M157.2,221.9 h14.3 M1217.3,221.9 h-14.3 M157.2,197.0 h7.2 M1217.3,197.0 h-7.2 M157.2,172.8 h14.3 M1217.3,172.8 h-14.3 M157.2,147.8 h7.2 M1217.3,147.8 h-7.2 M157.2,123.6 h14.3 M1217.3,123.6 h-14.3 M157.2,98.7 h7.2 M1217.3,98.7 h-7.2 M157.2,74.5 h14.3 M1217.3,74.5 h-14.3 M157.2,49.6 h7.2 M1217.3,49.6 h-7.2 M157.2,541.5 h14.3 M1217.3,541.5 h-14.3 M157.2,516.6 h7.2 M1217.3,516.6 h-7.2 M157.2,492.3 h14.3 M1217.3,492.3 h-14.3 M157.2,467.4 h7.2 M1217.3,467.4 h-7.2 M157.2,443.2 h14.3 M1217.3,443.2 h-14.3 M157.2,418.2 h7.2 M1217.3,418.2 h-7.2 M157.2,394.0 h14.3 M1217.3,394.0 h-14.3 M157.2,369.1 h7.2 M1217.3,369.1 h-7.2 M157.2,344.9 h14.3 M1217.3,344.9 h-14.3 M157.2,319.9 h7.2 M1217.3,319.9 h-7.2 M157.2,812.0 h-15.600000000000001 M1217.3,812.0 h-14.3 M157.2,787.0 h-7.9 M1217.3,787.0 h-7.2 M157.2,762.7 h-15.600000000000001 M1217.3,762.7 h-14.3 M157.2,737.7 h-7.9 M1217.3,737.7 h-7.2 M157.2,713.4 h-15.600000000000001 M1217.3,713.4 h-14.3 M157.2,688.4 h-7.9 M1217.3,688.4 h-7.2 M157.2,664.1 h-15.600000000000001 M1217.3,664.1 h-14.3 M157.2,639.1 h-7.9 M1217.3,639.1 h-7.2 M157.2,614.8 h-15.600000000000001 M1217.3,614.8 h-14.3 M157.2,589.8 h-7.9 M1217.3,589.8 h-7.2"/>
<text class="tl" x="139.5" y="278.6" text-anchor="end">0</text>
<text class="tl" x="139.5" y="229.5" text-anchor="end">20</text>
<text class="tl" x="139.5" y="180.4" text-anchor="end">40</text>
<text class="tl" x="139.5" y="131.2" text-anchor="end">60</text>
<text class="tl" x="139.5" y="82.1" text-anchor="end">80</text>
<text class="tl" x="139.5" y="32.6" text-anchor="end">100</text>
<text class="tl" x="139.5" y="549.5" text-anchor="end">0</text>
<text class="tl" x="139.5" y="500.3" text-anchor="end">20</text>
<text class="tl" x="139.5" y="451.2" text-anchor="end">40</text>
<text class="tl" x="139.5" y="402.0" text-anchor="end">60</text>
<text class="tl" x="139.5" y="352.9" text-anchor="end">80</text>
<text class="tl" x="139.5" y="302.8" text-anchor="end">100</text>
<text class="tl" x="129.9" y="819.6" text-anchor="end">0</text>
<text class="tl" x="129.9" y="770.3" text-anchor="end">20</text>
<text class="tl" x="129.9" y="721.0" text-anchor="end">40</text>
<text class="tl" x="129.9" y="671.7" text-anchor="end">60</text>
<text class="tl" x="129.9" y="622.4" text-anchor="end">80</text>
<text class="tl" x="129.9" y="573.2" text-anchor="end">100</text>
<text class="tl" x="253.4" y="875.6" text-anchor="middle">500</text>
<text class="tl" x="494.3" y="875.6" text-anchor="middle">1000</text>
<text class="tl" x="735.2" y="875.6" text-anchor="middle">1500</text>
<text class="tl" x="976.2" y="875.6" text-anchor="middle">2000</text>
<text class="tl" x="1217.1" y="875.6" text-anchor="middle">2500</text>
<text class="an" x="687.5" y="936.5" text-anchor="middle">Wavelength (nm)</text>
<text class="an" transform="translate(44,418) rotate(-90)" text-anchor="middle">Transmission (%)</text>
<text class="an" x="211.2" y="247.9">x=0.1</text>
<text class="an" x="206.2" y="523.2">x=0.5</text>
<text class="an" x="210.2" y="775">x=1</text>
<text class="an" y="74.7"><tspan x="244.6">(CdTe)</tspan><tspan class="sb" x="361.5" y="89.7">1-x</tspan><tspan x="392.7" y="74.7">(In</tspan><tspan class="sb" x="436.5" y="89.7">2</tspan><tspan x="449.5" y="74.7">Te</tspan><tspan class="sb" x="492.8" y="89.7">3</tspan><tspan x="507" y="74.7">)</tspan><tspan class="sb" x="517.9" y="89.7">x</tspan></text>
</svg></body></html>
